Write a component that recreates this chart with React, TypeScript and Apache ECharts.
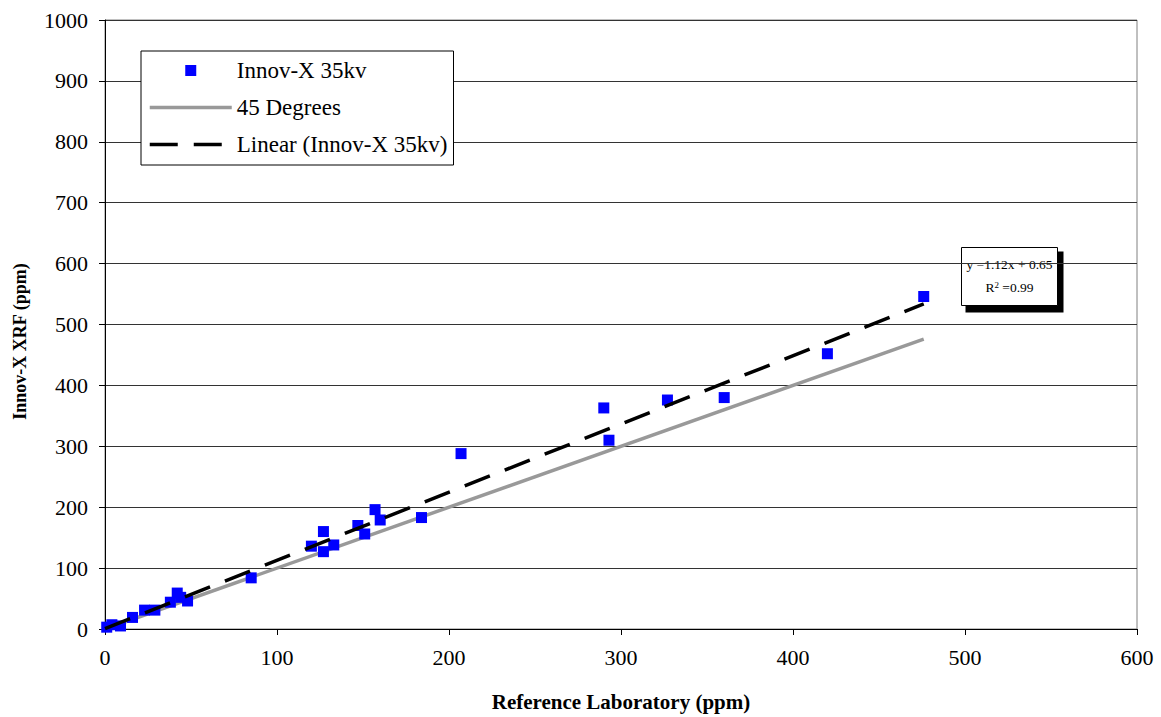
import React, { useEffect, useRef } from "react";
import * as echarts from "echarts";

const seriesNames = ["Innov-X 35kv", "45 Degrees", "Linear (Innov-X 35kv)"];
const labX = [1, 4, 9, 16, 23, 29, 38, 42, 44, 48, 85, 120, 127, 127, 133, 147, 151, 157, 160, 184, 207, 290, 293, 327, 360, 420, 476];
const xrfY = [3, 7, 5, 19, 31, 31, 44, 59, 52, 46, 84, 136, 160, 127, 138, 170, 156, 196, 179, 183, 288, 363, 310, 376, 380, 452, 546];
const diagX = [0, 476];
const diagY = [0, 476];
const trendX = [0, 476];
const trendY = [0.65, 533.77];
const xTicks = [0, 100, 200, 300, 400, 500, 600];
const yTicks = [0, 100, 200, 300, 400, 500, 600, 700, 800, 900, 1000];
const eqLines = ["y =1.12x + 0.65", "R{sup|2} =0.99"];

const FONT = "Liberation Serif";

export default function App() {
  const ref = useRef<HTMLDivElement>(null);
  useEffect(() => {
    if (!ref.current) return;
    const chart = echarts.init(ref.current, null, { renderer: "svg" });
    const pts = labX.map((x, i) => [x, xrfY[i]]);
    const diag = diagX.map((x, i) => [x, diagY[i]]);
    const trend = trendX.map((x, i) => [x, trendY[i]]);
    chart.setOption({
      animation: false,
      backgroundColor: "#fff",
      textStyle: { fontFamily: FONT, color: "#000" },
      grid: {
        left: 105,
        right: 24,
        top: 20,
        bottom: 87,
        show: true,
        borderColor: "#808080",
        borderWidth: 1,
        backgroundColor: "transparent",
      },
      legend: {
        orient: "vertical",
        left: 141,
        top: 51,
        backgroundColor: "#fff",
        borderColor: "#000",
        borderWidth: 1,
        borderRadius: 0,
        padding: [8, 6, 9, 7],
        itemWidth: 82,
        itemHeight: 11,
        itemGap: 14,
        textStyle: { fontFamily: FONT, fontSize: 23, color: "#000", lineHeight: 22 },
        data: [
          { name: seriesNames[0], icon: "path://M0 0M82 11M35.5 0h11v11h-11z", itemStyle: { color: "#0000FF" } },
          { name: seriesNames[1], itemStyle: { opacity: 0 }, lineStyle: { width: 3.5, color: "#999999" } },
          { name: seriesNames[2], itemStyle: { opacity: 0 }, lineStyle: { width: 3.5, color: "#000", type: [28, 16] } },
        ],
      },
      xAxis: {
        type: "value",
        min: xTicks[0],
        max: xTicks[xTicks.length - 1],
        interval: 100,
        name: "Reference Laboratory (ppm)",
        nameLocation: "middle",
        nameGap: 62,
        nameTextStyle: { fontFamily: FONT, fontSize: 21, fontWeight: "bold", color: "#000" },
        axisLine: { show: true, onZero: false, lineStyle: { color: "#000", width: 1 } },
        axisTick: { show: true, inside: false, length: 6, lineStyle: { color: "#000" } },
        axisLabel: { fontFamily: FONT, fontSize: 22, color: "#000", margin: 17, formatter: (v: number) => String(v) },
        splitLine: { show: false },
      },
      yAxis: {
        type: "value",
        min: yTicks[0],
        max: yTicks[yTicks.length - 1],
        interval: 100,
        name: "Innov-X XRF (ppm)",
        nameLocation: "middle",
        nameGap: 76,
        nameTextStyle: { fontFamily: FONT, fontSize: 18, fontWeight: "bold", color: "#000", padding: [0, 34, 0, 0] },
        axisLine: { show: true, onZero: false, lineStyle: { color: "#000", width: 1 } },
        axisTick: { show: true, inside: false, length: 6, lineStyle: { color: "#000" } },
        axisLabel: { fontFamily: FONT, fontSize: 22, color: "#000", margin: 17, formatter: (v: number) => String(v) },
        splitLine: { show: true, lineStyle: { color: "#333", width: 1 } },
      },
      series: [
        {
          name: seriesNames[0],
          type: "scatter",
          data: pts,
          symbol: "rect",
          symbolSize: 11,
          itemStyle: { color: "#0000FF", opacity: 1 },
          z: 3,
        },
        {
          name: seriesNames[1],
          type: "line",
          data: diag,
          symbol: "none",
          showSymbol: false,
          lineStyle: { color: "#999999", width: 3.5 },
          itemStyle: { color: "#999999" },
          z: 2,
        },
        {
          name: seriesNames[2],
          type: "line",
          data: trend,
          symbol: "none",
          showSymbol: false,
          lineStyle: { color: "#000", width: 3.5, type: [27, 16] },
          itemStyle: { color: "#000" },
          z: 4,
        },
      ],
      graphic: [
        {
          type: "group",
          left: 961,
          top: 247,
          children: [
            { type: "rect", shape: { x: 4, y: 4, width: 98, height: 61 }, style: { fill: "#000" } },
            { type: "rect", shape: { x: 0, y: 0, width: 96, height: 58 }, style: { fill: "#fff", stroke: "#000", lineWidth: 1 } },
            {
              type: "text",
              x: 48,
              y: 17,
              style: { text: eqLines[0], fontFamily: FONT, fontSize: 13.5, fill: "#000", align: "center", verticalAlign: "middle" },
            },
            {
              type: "text",
              x: 48,
              y: 40,
              style: {
                text: eqLines[1],
                fontFamily: FONT,
                fontSize: 13.5,
                fill: "#000",
                align: "center",
                verticalAlign: "middle",
                rich: { sup: { fontSize: 9, verticalAlign: "top", padding: [0, 0, 6, 0], fontFamily: FONT } },
              },
            },
          ],
        },
      ],
    });
    return () => chart.dispose();
  }, []);
  return <div ref={ref} style={{ position: "fixed", left: 0, top: 0, width: 1161, height: 717 }} />;
}
